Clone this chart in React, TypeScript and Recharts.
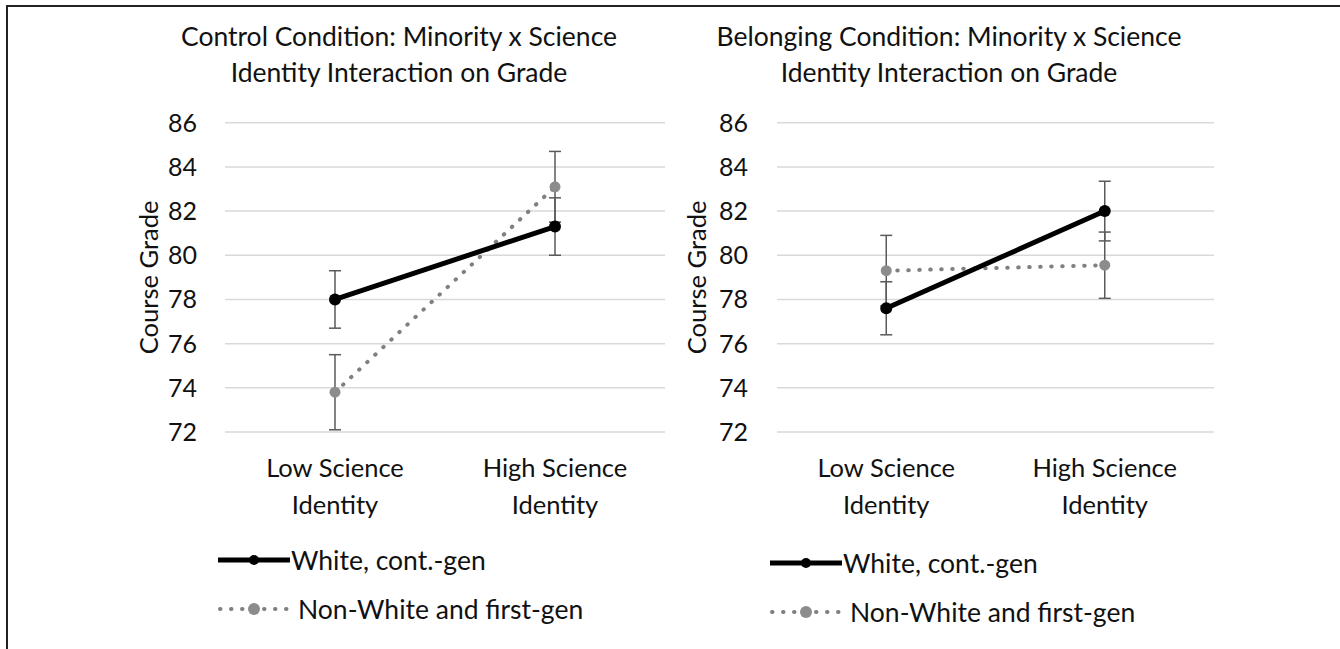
import React from 'react';
import { LineChart, Line, XAxis, YAxis, CartesianGrid, ErrorBar, Legend } from 'recharts';

const FONT = 'Lato, "Noto Sans", sans-serif';

// categories (line break = second row of the tick label)
const categories = ['Low Science\nIdentity', 'High Science\nIdentity'];
const yTicks = [72, 74, 76, 78, 80, 82, 84, 86];

// Control condition
const controlWhite = [78.0, 81.3];
const controlWhiteErr = [1.3, 1.3];
const controlNonWhite = [73.8, 83.1];
const controlNonWhiteErr = [1.7, 1.6];

// Belonging condition
const belongingWhite = [77.6, 82.0];
const belongingWhiteErr = [1.2, 1.35];
const belongingNonWhite = [79.3, 79.55];
const belongingNonWhiteErr = [1.6, 1.5];

const WHITE_NAME = 'White, cont.-gen';
const NONWHITE_NAME = 'Non-White and first-gen';

const buildData = (white: number[], whiteErr: number[], nonWhite: number[], nonWhiteErr: number[]) =>
  categories.map((name, i) => ({
    name,
    white: white[i],
    whiteErr: whiteErr[i],
    nonWhite: nonWhite[i],
    nonWhiteErr: nonWhiteErr[i],
  }));

const controlData = buildData(controlWhite, controlWhiteErr, controlNonWhite, controlNonWhiteErr);
const belongingData = buildData(belongingWhite, belongingWhiteErr, belongingNonWhite, belongingNonWhiteErr);

const CategoryTick = (props: any) => {
  const { x, y, payload } = props;
  const lines = String(payload.value).split('\n');
  return (
    <text x={x} y={y} textAnchor="middle" fill="#111" fontSize={25.5} fontFamily={FONT}>
      <tspan x={x} dy={45}>{lines[0]}</tspan>
      <tspan x={x} dy={37}>{lines[1]}</tspan>
    </text>
  );
};

const LegendContent = (props: any) => {
  const items = [...(props.payload || [])].sort((a: any, b: any) =>
    a.dataKey === 'white' ? -1 : b.dataKey === 'white' ? 1 : 0
  );
  return (
    <div style={{ fontFamily: FONT, fontSize: 26.5, color: '#111' }}>
      {items.map((p: any) => {
        const solid = p.dataKey === 'white';
        return (
          <div key={p.dataKey} style={{ display: 'flex', alignItems: 'center', height: 49 }}>
            <svg width={72} height={20} style={{ display: 'block' }}>
              {solid ? (
                <line x1={0} x2={72} y1={10} y2={10} stroke="#000" strokeWidth={5} />
              ) : (
                <line x1={2} x2={72} y1={10} y2={10} stroke="#808080" strokeWidth={4}
                  strokeDasharray="0.5 10.5" strokeLinecap="round" />
              )}
              <circle cx={36} cy={10} r={solid ? 5 : 6} fill={solid ? '#000' : '#8c8c8c'} />
            </svg>
            <span style={{ marginLeft: solid ? 1 : 8, whiteSpace: 'nowrap' }}>{p.value}</span>
          </div>
        );
      })}
    </div>
  );
};

interface PanelProps {
  titleTop: string;
  titleBottom: string;
  data: any[];
  left: number;
  width: number;
  yAxisWidth: number;
  marginRight: number;
  tickMargin: number;
  legendLeft: number;
  legendTop: number;
}

const Panel: React.FC<PanelProps> = ({ titleTop, titleBottom, data, left, width, yAxisWidth, marginRight, tickMargin, legendLeft, legendTop }) => (
  <div style={{ position: 'absolute', left, top: 0, width, height: 649 }}>
    <div style={{
      position: 'absolute', left: 0, top: 19, width, textAlign: 'center',
      fontFamily: FONT, fontSize: 26.5, lineHeight: '35.5px', color: '#111',
    }}>
      <div>{titleTop}</div>
      <div>{titleBottom}</div>
    </div>
    <div style={{ position: 'absolute', left: 0, top: 20 }}>
      <LineChart width={width} height={617} data={data}
        margin={{ top: 102.7, right: marginRight, left: 0, bottom: 125 }}>
        <CartesianGrid vertical={false} stroke="#d9d9d9" strokeWidth={1.5} />
        <XAxis dataKey="name" scale="band" axisLine={false} tickLine={false} tickSize={0} tickMargin={0}
          height={80} tick={<CategoryTick />} interval={0} />
        <YAxis domain={[72, 86]} ticks={yTicks} axisLine={false} tickLine={false} tickSize={0}
          tickMargin={tickMargin} width={yAxisWidth} interval={0}
          tick={{ fill: '#111', fontSize: 25, fontFamily: FONT }}
          label={{
            content: (lp: any) => {
              const vb = lp.viewBox || {};
              const cx = (vb.x || 0) + 20;
              const cy = (vb.y || 0) + (vb.height || 0) / 2;
              return (
                <text x={cx} y={cy} transform={`rotate(-90, ${cx}, ${cy})`} textAnchor="middle"
                  dominantBaseline="central" fill="#111" fontSize={25.5} fontFamily={FONT}>
                  Course Grade
                </text>
              );
            },
          }} />
        <Legend layout="vertical" align="center" verticalAlign="middle" content={<LegendContent />}
          wrapperStyle={{ left: legendLeft, top: legendTop, width: 440 }} />
        <Line dataKey="nonWhite" name={NONWHITE_NAME} stroke="#808080" strokeWidth={4}
          strokeDasharray="0.5 10.5" strokeLinecap="round"
          dot={{ r: 5.5, fill: '#8c8c8c', stroke: 'none', strokeWidth: 0 }} activeDot={false}
          isAnimationActive={false}>
          <ErrorBar dataKey="nonWhiteErr" direction="y" width={6} stroke="#5a5a5a" strokeWidth={1.5} />
        </Line>
        <Line dataKey="white" name={WHITE_NAME} stroke="#000" strokeWidth={5}
          dot={{ r: 6, fill: '#000', stroke: 'none', strokeWidth: 0 }} activeDot={false}
          isAnimationActive={false}>
          <ErrorBar dataKey="whiteErr" direction="y" width={6} stroke="#5a5a5a" strokeWidth={1.5} />
        </Line>
      </LineChart>
    </div>
  </div>
);

export default function App() {
  return (
    <div style={{ position: 'absolute', left: 0, top: 0, width: 1340, height: 649, background: '#fff', overflow: 'hidden' }}>
      <div style={{
        position: 'absolute', left: 6, top: 5, width: 1400, height: 700,
        borderLeft: '2px solid #222', borderTop: '2px solid #222',
      }} />
      <Panel titleTop="Control Condition: Minority x Science" titleBottom="Identity Interaction on Grade"
        data={controlData} left={128} width={542} yAxisWidth={97} marginRight={5} tickMargin={28}
        legendLeft={90} legendTop={515} />
      <Panel titleTop="Belonging Condition: Minority x Science" titleBottom="Identity Interaction on Grade"
        data={belongingData} left={676} width={546} yAxisWidth={101} marginRight={8} tickMargin={29}
        legendLeft={94} legendTop={518} />
    </div>
  );
}
